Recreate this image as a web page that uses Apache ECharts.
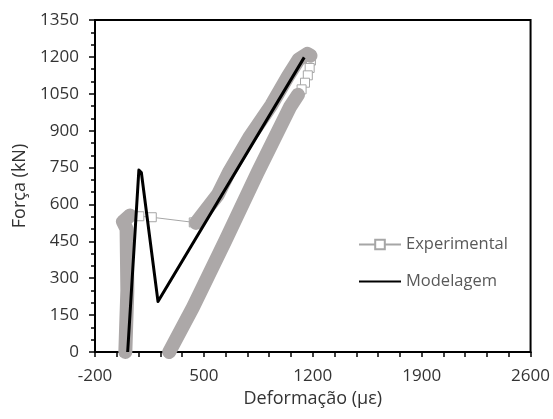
<!DOCTYPE html>
<html>
<head>
<meta charset="utf-8">
<script src="https://cdn.jsdelivr.net/npm/echarts@6/dist/echarts.min.js"></script>
<style>
  html, body { margin: 0; padding: 0; background: #fff; }
  #chart { width: 553px; height: 419px; }
</style>
</head>
<body>
<div id="chart"></div>
<script>
// tick positions
var xMajorTicks = [-200, 500, 1200, 1900, 2600];
var xMinorTicks = [-200, -60, 80, 220, 360, 500, 640, 780, 920, 1060, 1200,
  1340, 1480, 1620, 1760, 1900, 2040, 2180, 2320, 2460, 2600];

// Experimental - first loading (near vertical)
var expVertX = [-5, 0, 8, 5, 3, -20, 25];
var expVertY = [0, 100, 250, 400, 500, 530, 555];
// Experimental - jump points
var expJumpX = [85, 165, 435];
var expJumpY = [552, 548, 527];
// Experimental - reloading up to peak
var expLoadX = [450, 590, 665, 790, 935, 1040, 1110, 1165, 1185];
var expLoadY = [525, 640, 735, 870, 1005, 1120, 1190, 1212, 1205];
// Experimental - sparse points at start of unloading
var expTopX = [1188, 1180, 1168, 1150, 1128, 1105];
var expTopY = [1185, 1155, 1125, 1095, 1068, 1046];
// Experimental - unloading
var expUnloadX = [1105, 1054, 844, 640, 430, 277];
var expUnloadY = [1046, 997, 728, 455, 182, 0];

// Modelagem
var modX = [10, 82, 90, 98, 205, 1145];
var modY = [0, 740, 745, 730, 205, 1198];

function pairs(xs, ys) {
  return xs.map(function (x, i) { return [x, ys[i]]; });
}

var expAll = [].concat(
  pairs(expVertX, expVertY),
  pairs(expJumpX, expJumpY),
  pairs(expLoadX, expLoadY),
  pairs(expTopX, expTopY),
  pairs(expUnloadX, expUnloadY)
);
// dense band, broken where the points are sparse
var expBand = [].concat(
  pairs(expVertX, expVertY), [['-', '-']],
  pairs(expLoadX, expLoadY), [['-', '-']],
  pairs(expUnloadX, expUnloadY)
);

var chart = echarts.init(document.getElementById('chart'));
var fontFamily = '"Open Sans", sans-serif';
var plain = function (v) { return String(v); };

var option = {
  backgroundColor: '#ffffff',
  animation: false,
  grid: {
    left: 95,
    right: 18,
    top: 20,
    bottom: 67,
    show: true,
    borderColor: '#000',
    borderWidth: 2
  },
  legend: {
    orient: 'vertical',
    left: 353,
    top: 231,
    itemWidth: 42,
    itemHeight: 12,
    itemGap: 20,
    textStyle: { color: '#595959', fontSize: 16.5, fontFamily: fontFamily },
    data: [
      'Experimental',
      { name: 'Modelagem', itemStyle: { opacity: 0 } }
    ]
  },
  xAxis: {
    type: 'value',
    min: -200,
    max: 2600,
    name: 'Deformação (με)',
    nameLocation: 'middle',
    nameGap: 29,
    nameTextStyle: { color: '#333', fontSize: 18, fontFamily: fontFamily },
    axisLine: { onZero: false, lineStyle: { color: '#000', width: 2 } },
    axisTick: { customValues: xMinorTicks, length: 5, lineStyle: { color: '#000', width: 1.5 } },
    axisLabel: { customValues: xMajorTicks, formatter: plain, color: '#333', fontSize: 17, fontFamily: fontFamily, margin: 16 },
    splitLine: { show: false }
  },
  yAxis: {
    type: 'value',
    min: 0,
    max: 1350,
    interval: 150,
    name: 'Força (kN)',
    nameLocation: 'middle',
    nameGap: 65,
    nameTextStyle: { color: '#333', fontSize: 18, fontFamily: fontFamily },
    axisLine: { show: true, onZero: false, lineStyle: { color: '#000', width: 2 } },
    axisTick: { show: true, length: 6, lineStyle: { color: '#000', width: 1.5 } },
    minorTick: { show: true, splitNumber: 3, length: 4, lineStyle: { color: '#000', width: 1.5 } },
    axisLabel: { formatter: plain, color: '#333', fontSize: 17, fontFamily: fontFamily, margin: 16 },
    splitLine: { show: false }
  },
  series: [
    {
      name: 'Experimental',
      type: 'line',
      z: 2,
      data: expAll,
      symbol: 'rect',
      symbolSize: 9,
      itemStyle: { color: '#ffffff', borderColor: '#a6a6a6', borderWidth: 1 },
      lineStyle: { color: '#a6a6a6', width: 1 }
    },
    {
      name: 'Experimental',
      type: 'line',
      z: 3,
      data: expBand,
      symbol: 'none',
      connectNulls: false,
      lineStyle: { color: '#aca8a8', width: 14, cap: 'round', join: 'round' },
      itemStyle: { color: '#aca8a8' }
    },
    {
      name: 'Modelagem',
      type: 'line',
      z: 4,
      data: pairs(modX, modY),
      symbol: 'none',
      itemStyle: { color: '#000' },
      lineStyle: { color: '#000', width: 3, join: 'round' }
    }
  ]
};
chart.setOption(option);
</script>
</body>
</html>
